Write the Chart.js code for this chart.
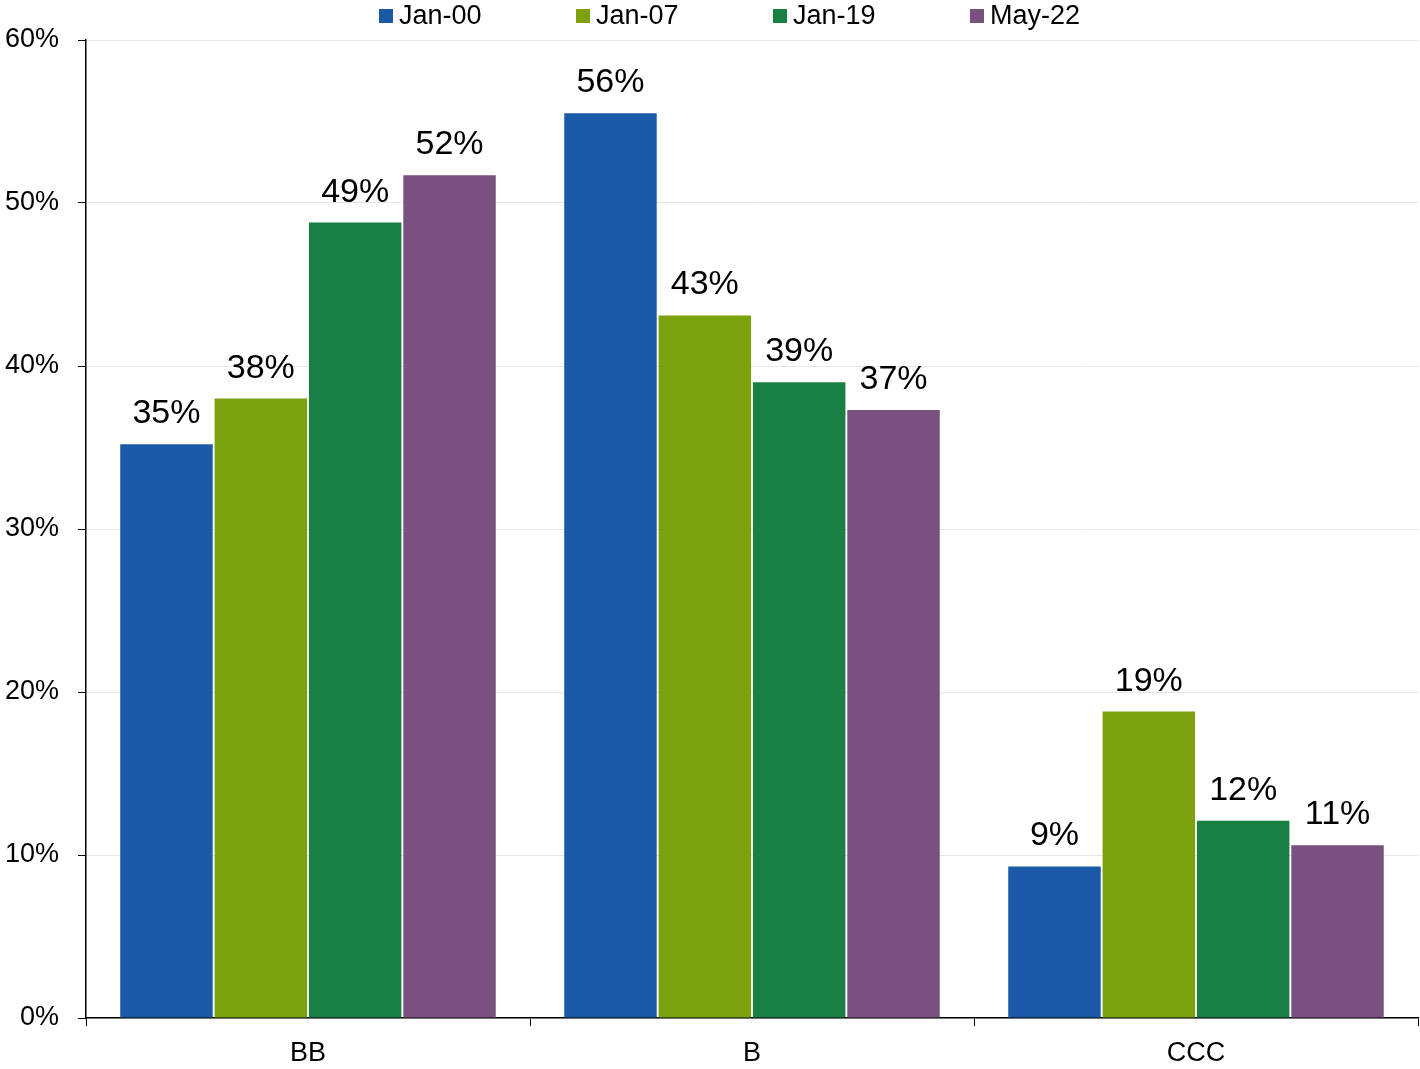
<!DOCTYPE html>
<html>
<head>
<meta charset="utf-8">
<script src="https://cdn.jsdelivr.net/npm/chart.js@4.4.1/dist/chart.umd.min.js"></script>
<style>
  html, body { margin: 0; padding: 0; background: #fff; }
  #wrap { position: relative; width: 1420px; height: 1069px; }
  #legend { position: absolute; left: 379px; top: 0px; display: flex; font-family: "Liberation Sans", Arial, Helvetica, sans-serif; font-size: 27px; color: #000; }
  .item { width: 197px; display: flex; align-items: center; }
  .box { width: 14px; height: 14px; margin-right: 6px; }
</style>
</head>
<body>
<div id="wrap">
  <canvas id="chart" width="1420" height="1069"></canvas>
  <div id="legend"></div>
</div>
<script>
// categories and series
const categories = ["BB", "B", "CCC"];
const seriesNames = ["Jan-00", "Jan-07", "Jan-19", "May-22"];
const jan00 = [35.2, 55.5, 9.3];
const jan07 = [38.0, 43.1, 18.8];
const jan19 = [48.8, 39.0, 12.1];
const may22 = [51.7, 37.3, 10.6];
const yTicks = [0, 10, 20, 30, 40, 50, 60];

const colors = ["#1B58A5", "#7BA20C", "#188043", "#78517F"];
const fontFamily = '"Liberation Sans", Arial, Helvetica, sans-serif';

// html legend
const legendEl = document.getElementById('legend');
seriesNames.forEach(function (name, i) {
    const item = document.createElement('div');
    item.className = 'item';
    item.innerHTML = '<span class="box" style="background:' + colors[i] + '"></span><span>' + name + '</span>';
    legendEl.appendChild(item);
});

// value labels above bars
const barLabels = {
    id: 'barLabels',
    afterDatasetsDraw(chart) {
        const ctx = chart.ctx;
        ctx.save();
        ctx.font = '34px ' + fontFamily;
        ctx.fillStyle = '#000';
        ctx.textAlign = 'center';
        ctx.textBaseline = 'alphabetic';
        chart.data.datasets.forEach(function (ds, i) {
            chart.getDatasetMeta(i).data.forEach(function (bar, j) {
                ctx.fillText(Math.round(ds.data[j]) + '%', bar.x, bar.y - 21);
            });
        });
        ctx.restore();
    }
};

const seriesData = [jan00, jan07, jan19, may22];

new Chart(document.getElementById('chart'), {
    type: 'bar',
    data: {
        labels: categories,
        datasets: seriesNames.map(function (name, i) {
            return {
                label: name,
                data: seriesData[i],
                backgroundColor: colors[i],
                borderWidth: 0,
                categoryPercentage: 0.85,
                barPercentage: 0.98,
            };
        }),
    },
    options: {
        responsive: false,
        animation: false,
        devicePixelRatio: 1,
        layout: { padding: { top: 40, right: 2, left: 0, bottom: 0 } },
        plugins: {
            legend: { display: false },
            tooltip: { enabled: false },
        },
        scales: {
            x: {
                offset: true,
                grid: {
                    offset: true,
                    drawOnChartArea: false,
                    drawTicks: true,
                    tickLength: 8,
                    tickColor: '#000',
                },
                border: { color: '#000', width: 1.5 },
                ticks: { color: '#000', font: { family: fontFamily, size: 27 }, padding: 11 },
                afterFit: function (scale) { scale.height = 51; },
            },
            y: {
                min: 0,
                max: 60,
                afterBuildTicks: function (scale) {
                    scale.ticks = yTicks.map(function (v) { return { value: v }; });
                },
                grid: {
                    color: '#e6e6e6',
                    tickColor: '#000',
                    tickLength: 8,
                },
                border: { color: '#000', width: 1.5 },
                ticks: {
                    color: '#000',
                    font: { family: fontFamily, size: 27 },
                    padding: 19,
                    callback: function (v) { return v + '%'; },
                },
                afterFit: function (scale) { scale.width = 86; },
            },
        },
    },
    plugins: [barLabels],
});
</script>
</body>
</html>
